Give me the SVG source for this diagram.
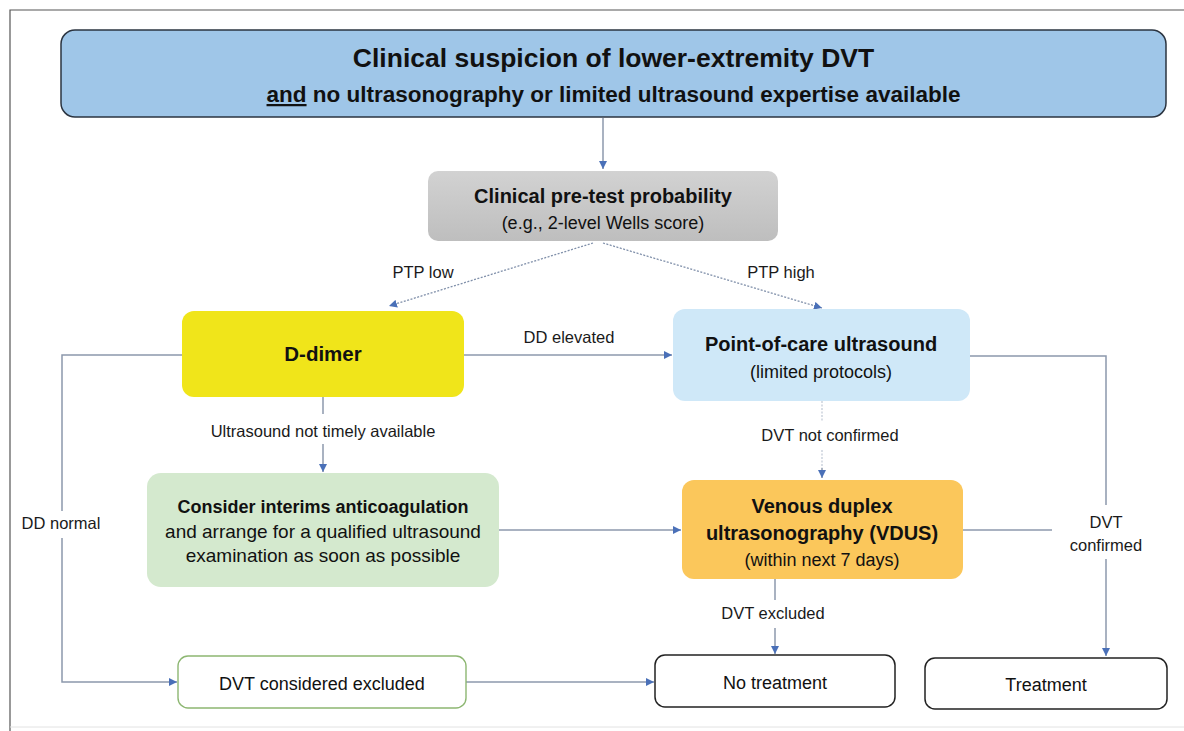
<svg xmlns="http://www.w3.org/2000/svg" width="1184" height="731" viewBox="0 0 1184 731">
<style>
  text { font-family: "Liberation Sans", Arial, sans-serif; fill: #111; text-anchor: middle; }
  .b { font-weight: bold; }
  .lbl { font-size: 16.5px; fill: #1a1a1a; }
  .conn { fill: none; stroke: #8C98AC; stroke-width: 1.5; }
  .dash { fill: none; stroke: #8090AA; stroke-width: 1.3; stroke-dasharray: 2 1.5; }
  .faint { fill: none; stroke: #C4CCD8; stroke-width: 1.3; stroke-dasharray: 2 1.5; }
</style>
<defs>
  <marker id="arr" viewBox="0 0 10 10" refX="10" refY="5" markerWidth="8" markerHeight="8" markerUnits="userSpaceOnUse" orient="auto">
    <path d="M0,0 L10,5 L0,10 z" fill="#4A70B8"/>
  </marker>
  <linearGradient id="gray" x1="0" y1="0" x2="0" y2="1">
    <stop offset="0" stop-color="#D2D2D2"/>
    <stop offset="1" stop-color="#BEBEBE"/>
  </linearGradient>
</defs>
<rect x="0" y="0" width="1184" height="731" fill="#FFFFFF"/>
<!-- frame -->
<path d="M10,731 V10 H1184" fill="none" stroke="#555" stroke-width="1.2"/>
<line x1="10" y1="727" x2="1184" y2="727" stroke="#E2E2E2" stroke-width="1"/>

<g id="connectors">
  <path class="conn" d="M603,118 V169" marker-end="url(#arr)"/>
  <path class="dash" d="M593,243 L389,306" marker-end="url(#arr)"/>
  <path class="dash" d="M603,243 L822,308" marker-end="url(#arr)"/>
  <path class="conn" d="M464,355 H672" marker-end="url(#arr)"/>
  <path class="conn" d="M182,355 H62 V511"/>
  <path class="conn" d="M62,538 V682 H177" marker-end="url(#arr)"/>
  <path class="conn" d="M323,397 V414"/>
  <path class="conn" d="M323,444 V472" marker-end="url(#arr)"/>
  <path class="conn" d="M499,530 H681" marker-end="url(#arr)"/>
  <path class="faint" d="M822,401 V422"/>
  <path class="faint" d="M822,450 V468"/>
  <path class="conn" d="M822,468 V478" marker-end="url(#arr)"/>
  <path class="conn" d="M970,356 H1106 V505"/>
  <path class="conn" d="M1106,559 V656" marker-end="url(#arr)"/>
  <path class="conn" d="M963,530 H1052"/>
  <path class="conn" d="M775,579 V600"/>
  <path class="conn" d="M775,628 V654" marker-end="url(#arr)"/>
  <path class="conn" d="M466,682 H654" marker-end="url(#arr)"/>
  <text class="lbl" x="423" y="278">PTP low</text>
  <text class="lbl" x="781" y="278">PTP high</text>
  <text class="lbl" x="569" y="343">DD elevated</text>
  <text class="lbl" x="61" y="529">DD normal</text>
  <text class="lbl" x="323" y="437">Ultrasound not timely available</text>
  <text class="lbl" x="830" y="441">DVT not confirmed</text>
  <text class="lbl" x="1106" y="528">DVT</text>
  <text class="lbl" x="1106" y="551">confirmed</text>
  <text class="lbl" x="773" y="619">DVT excluded</text>
</g>

<g id="n-suspicion">
  <rect x="61" y="30" width="1105" height="87" rx="14" fill="#9FC6E8" stroke="#2B3440" stroke-width="1.5"/>
  <text class="b" x="613.5" y="67" font-size="26.5">Clinical suspicion of lower-extremity DVT</text>
  <text class="b" x="613.5" y="102" font-size="22.5"><tspan text-decoration="underline">and</tspan> no ultrasonography or limited ultrasound expertise available</text>
</g>

<g id="n-ptp">
  <rect x="428" y="171" width="350" height="70" rx="10" fill="url(#gray)"/>
  <text class="b" x="603" y="203" font-size="20">Clinical pre-test probability</text>
  <text x="603" y="229" font-size="18">(e.g., 2-level Wells score)</text>
</g>

<g id="n-ddimer">
  <rect x="182" y="311" width="282" height="86" rx="12" fill="#F0E51A"/>
  <text class="b" x="323" y="361" font-size="20.5">D-dimer</text>
</g>

<g id="n-pocus">
  <rect x="673" y="309" width="297" height="92" rx="12" fill="#CFE8F8"/>
  <text class="b" x="821" y="351" font-size="20">Point-of-care ultrasound</text>
  <text x="821" y="378" font-size="18">(limited protocols)</text>
</g>

<g id="n-interim">
  <rect x="147" y="473" width="352" height="114" rx="14" fill="#D4E9CE"/>
  <text class="b" x="323" y="513" font-size="18">Consider interims anticoagulation</text>
  <text x="323" y="538" font-size="19">and arrange for a qualified ultrasound</text>
  <text x="323" y="562" font-size="19">examination as soon as possible</text>
</g>

<g id="n-vdus">
  <rect x="682" y="480" width="281" height="99" rx="12" fill="#FBC75B"/>
  <text class="b" x="822" y="513" font-size="20">Venous duplex</text>
  <text class="b" x="822" y="540" font-size="20">ultrasonography (VDUS)</text>
  <text x="822" y="566" font-size="18">(within next 7 days)</text>
</g>

<g id="n-excluded">
  <rect x="178" y="656" width="288" height="52" rx="10" fill="#FFFFFF" stroke="#8DB772" stroke-width="1.4"/>
  <text x="322" y="690" font-size="18">DVT considered excluded</text>
</g>

<g id="n-notreatment">
  <rect x="655" y="655" width="240" height="52" rx="10" fill="#FFFFFF" stroke="#222" stroke-width="1.5"/>
  <text x="775" y="689" font-size="18">No treatment</text>
</g>

<g id="n-treatment">
  <rect x="925" y="658" width="242" height="51" rx="10" fill="#FFFFFF" stroke="#222" stroke-width="1.5"/>
  <text x="1046" y="691" font-size="18">Treatment</text>
</g>
</svg>
